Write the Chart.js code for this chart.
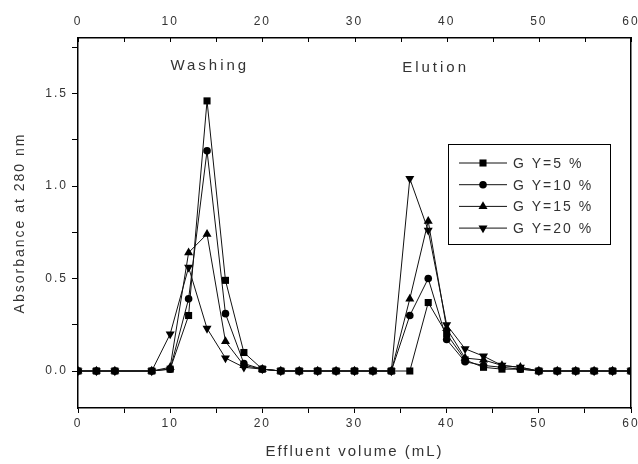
<!DOCTYPE html>
<html>
<head>
<meta charset="utf-8">
<script src="https://cdn.jsdelivr.net/npm/chart.js@4/dist/chart.umd.min.js"></script>
<style>
  html, body { margin: 0; padding: 0; background: #fff; }
  #wrap { width: 638px; height: 464px; }
</style>
</head>
<body>
<div id="wrap"><canvas id="absChart" width="638" height="464"></canvas></div>
<script>
// effluent volume (mL) of each fraction
var volumes = [0, 2, 4, 8, 10, 12, 14, 16, 18, 20, 22, 24, 26, 28, 30, 32, 34,
               36, 38, 40, 42, 44, 46, 48, 50, 52, 54, 56, 58, 60];

// absorbance at 280 nm for each grafting yield
var gy5  = [0, 0, 0, 0, 0.01, 0.30, 1.46, 0.49, 0.10, 0.01, 0, 0, 0, 0, 0, 0, 0,
            0.00, 0.37, 0.20, 0.06, 0.02, 0.01, 0.01, 0, 0, 0, 0, 0, 0];
var gy10 = [0, 0, 0, 0, 0.01, 0.39, 1.19, 0.31, 0.04, 0.01, 0, 0, 0, 0, 0, 0, 0,
            0.30, 0.50, 0.17, 0.05, 0.03, 0.02, 0.01, 0, 0, 0, 0, 0, 0];
var gy15 = [0, 0, 0, 0, 0.02, 0.64, 0.74, 0.16, 0.03, 0.01, 0, 0, 0, 0, 0, 0, 0,
            0.39, 0.81, 0.23, 0.07, 0.06, 0.03, 0.02, 0, 0, 0, 0, 0, 0];
var gy20 = [0, 0, 0, 0, 0.20, 0.56, 0.23, 0.07, 0.02, 0.01, 0, 0, 0, 0, 0, 0, 0,
            1.04, 0.76, 0.25, 0.12, 0.08, 0.03, 0.02, 0, 0, 0, 0, 0, 0];

var seriesLabels = ["G Y=5 %", "G Y=10 %", "G Y=15 %", "G Y=20 %"];

// tick positions / labels
var xTicks = [0, 5, 10, 15, 20, 25, 30, 35, 40, 45, 50, 55, 60];
var yTicks = [0, 0.25, 0.5, 0.75, 1.0, 1.25, 1.5, 1.75];

function pairs(ys) {
    return volumes.map(function (v, i) { return {x: v, y: ys[i]}; });
}

function makeSet(label, ys, style, rot, r) {
    return {
        label: label,
        data: pairs(ys),
        borderColor: '#111',
        borderWidth: 1,
        backgroundColor: '#000',
        pointBackgroundColor: '#000',
        pointBorderColor: '#000',
        pointBorderWidth: 0,
        pointStyle: style,
        rotation: rot,
        pointRadius: r,
        tension: 0
    };
}

var textColor = '#333';

var setTicks = function (vals) {
    return function (scale) {
        scale.ticks = vals.map(function (v) { return {value: v}; });
    };
};

// horizontal axes: fixed height, no extra room for the end labels
var fitX = function (h) {
    return function (s) {
        s.height = h;
        s.paddingLeft = 0;
        s.paddingRight = 0;
    };
};

// spaced lettering, peak labels, inward top ticks and inset legend
var extras = {
    id: 'extras',
    beforeDraw: function (chart) {
        chart.ctx.letterSpacing = '2px';
    },
    afterDraw: function (chart) {
        var ctx = chart.ctx;
        var xs = chart.scales.x, ys = chart.scales.y, area = chart.chartArea;
        ctx.save();
        // top axis ticks pointing inward
        ctx.strokeStyle = '#000';
        ctx.lineWidth = 1;
        xTicks.forEach(function (v) {
            var px = Math.round(xs.getPixelForValue(v)) + 0.5;
            ctx.beginPath();
            ctx.moveTo(px, area.top);
            ctx.lineTo(px, area.top + 4);
            ctx.stroke();
        });

        // peak labels
        ctx.fillStyle = textColor;
        ctx.font = '15px "Liberation Sans", Arial, sans-serif';
        ctx.letterSpacing = '3px';
        ctx.textAlign = 'center';
        ctx.textBaseline = 'middle';
        ctx.fillText('Washing', xs.getPixelForValue(14.3), ys.getPixelForValue(1.65));
        ctx.fillText('Elution', xs.getPixelForValue(38.8), ys.getPixelForValue(1.64));

        // legend box
        var bx = 448, by = 144, bw = 162, bh = 100;
        ctx.strokeStyle = '#000';
        ctx.lineWidth = 1;
        ctx.strokeRect(bx + 0.5, by + 0.5, bw, bh);
        ctx.font = '14px "Liberation Sans", Arial, sans-serif';
        ctx.letterSpacing = '2px';
        ctx.textAlign = 'left';
        chart.data.datasets.forEach(function (ds, i) {
            var ry = by + 19 + i * 21.7;
            ctx.strokeStyle = '#111';
            ctx.beginPath();
            ctx.moveTo(bx + 11, ry);
            ctx.lineTo(bx + 59, ry);
            ctx.stroke();
            ctx.fillStyle = '#000';
            Chart.helpers.drawPoint(ctx, {
                pointStyle: ds.pointStyle,
                rotation: ds.rotation,
                radius: ds.pointRadius,
                borderWidth: 0
            }, bx + 35, ry);
            ctx.fillStyle = textColor;
            ctx.fillText(ds.label, bx + 65, ry + 1);
        });
        ctx.restore();
        ctx.letterSpacing = '0px';
    }
};

var ctxA = document.getElementById('absChart').getContext('2d');
var absChart = new Chart(ctxA, {
    type: 'line',
    data: {
        datasets: [
            makeSet(seriesLabels[0], gy5, 'rect', 0, 5),
            makeSet(seriesLabels[1], gy10, 'circle', 0, 3.8),
            makeSet(seriesLabels[2], gy15, 'triangle', 0, 5.2),
            makeSet(seriesLabels[3], gy20, 'triangle', 180, 5.2)
        ]
    },
    options: {
        responsive: false,
        animation: false,
        layout: {padding: 0},
        plugins: {
            legend: {display: false},
            tooltip: {enabled: false}
        },
        font: {family: '"Liberation Sans", Arial, sans-serif'},
        scales: {
            x: {
                type: 'linear',
                position: 'bottom',
                min: 0,
                max: 60,
                afterBuildTicks: setTicks(xTicks),
                afterFit: fitX(56),
                ticks: {
                    autoSkip: false,
                    maxRotation: 0,
                    color: textColor,
                    padding: 3,
                    font: {size: 12},
                    callback: function (v) { return v % 10 === 0 ? v : ''; }
                },
                grid: {drawOnChartArea: false, drawTicks: true, tickLength: 5, color: '#000'},
                border: {display: true, color: '#000', width: 1.5},
                title: {
                    display: true,
                    text: 'Effluent volume (mL)',
                    color: textColor,
                    font: {size: 15},
                    padding: {top: 0, bottom: 3}
                }
            },
            x2: {
                type: 'linear',
                position: 'top',
                min: 0,
                max: 60,
                afterBuildTicks: setTicks(xTicks),
                afterFit: fitX(38),
                ticks: {
                    autoSkip: false,
                    maxRotation: 0,
                    color: textColor,
                    padding: 9,
                    font: {size: 12},
                    callback: function (v) { return v % 10 === 0 ? v : ''; }
                },
                grid: {drawOnChartArea: false, drawTicks: false},
                border: {display: true, color: '#000', width: 1.5}
            },
            y: {
                type: 'linear',
                position: 'left',
                min: -0.2,
                max: 1.8,
                afterBuildTicks: setTicks(yTicks),
                afterFit: function (s) { s.width = 78; },
                ticks: {
                    color: textColor,
                    padding: 4,
                    font: {size: 12},
                    callback: function (v) {
                        return Math.abs(v * 2 - Math.round(v * 2)) < 1e-6 ? v.toFixed(1) : '';
                    }
                },
                grid: {drawOnChartArea: false, drawTicks: true, tickLength: 6, color: '#000'},
                border: {display: true, color: '#000', width: 1.5},
                title: {
                    display: true,
                    text: 'Absorbance at 280 nm',
                    color: textColor,
                    font: {size: 14},
                    padding: {top: 12, bottom: 0}
                }
            },
            y2: {
                type: 'linear',
                position: 'right',
                min: -0.2,
                max: 1.8,
                afterFit: function (s) { s.width = 7; },
                ticks: {display: false},
                grid: {drawOnChartArea: false, drawTicks: false},
                border: {display: true, color: '#000', width: 1.5}
            }
        }
    },
    plugins: [extras]
});
</script>
</body>
</html>
